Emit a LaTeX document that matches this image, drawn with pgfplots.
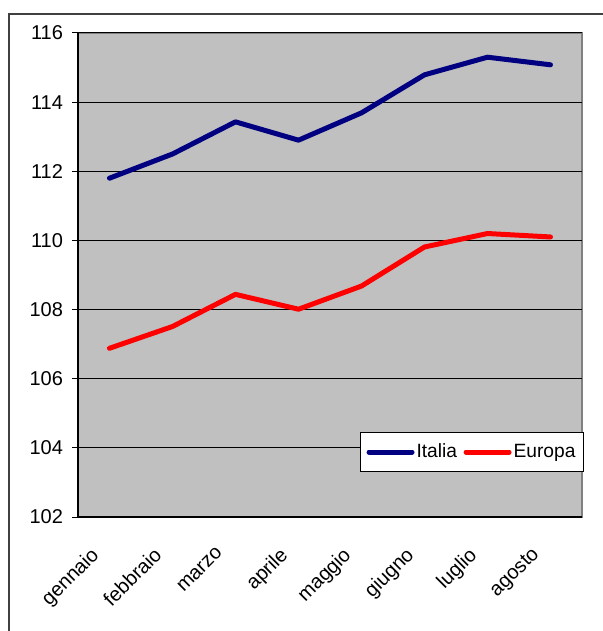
\documentclass[border=0pt]{standalone}
\usepackage{fontspec}
\setmainfont{Liberation Sans}
\usepackage{pgfplots}
\pgfplotsset{compat=1.18}
\definecolor{plotgray}{RGB}{192,192,192}
\definecolor{framegray}{RGB}{128,128,128}
\definecolor{italia}{RGB}{0,0,128}
\definecolor{europa}{RGB}{255,0,0}
\begin{document}
\begin{tikzpicture}
\useasboundingbox (0,0) rectangle (301pt,315.5pt);
\fill[white] (0,0) rectangle (301pt,315.5pt);
% outer chart frame (cropped on the right and bottom)
\draw[line width=0.8pt, black!75] (4.5pt,-20pt) -- (4.5pt,308.5pt) -- (330pt,308.5pt);
\begin{axis}[
  at={(39pt,57pt)}, anchor=south west,
  scale only axis,
  width=252pt, height=242pt,
  xmin=-0.5, xmax=7.5,
  ymin=102, ymax=116,
  ytick={102,104,...,116},
  xtick={0,...,7},
  xticklabels={gennaio,febbraio,marzo,aprile,maggio,giugno,luglio,agosto},
  x tick style={draw=none},
  extra x ticks={-0.5,0.5,...,7.5},
  extra x tick labels={},
  extra x tick style={tick style={draw=black, line width=0.5pt}, major tick length=3pt, tick align=outside, grid=none},
  y tick style={line width=0.5pt, black},
  major tick length=3pt,
  tick align=outside,
  axis x line*=bottom, axis y line*=left,
  axis line style={line width=0.6pt, black, -},
  axis background/.style={fill=plotgray, draw=framegray, line width=0.8pt},
  ymajorgrids,
  major grid style={black, line width=0.5pt},
  tick label style={font=\fontsize{10}{12}\selectfont},
  /pgf/number format/assume math mode=true,
  yticklabel style={xshift=-1pt},
  xticklabel style={xshift=-10pt, yshift=-6.5pt, rotate=45, anchor=north east},
  legend style={at={(1.004,0.093)}, anchor=south east, legend columns=2,
    draw=black, fill=white, line width=0.5pt, font=\fontsize{9.6}{11}\selectfont,
    inner xsep=3pt, inner ysep=4pt,
    nodes={inner xsep=1pt, inner ysep=1.5pt},
    /tikz/every even column/.append style={column sep=2.25pt}},
  legend image code/.code={\draw[#1, line width=2.5pt, line cap=round] (0pt,0pt) -- (21.5pt,0pt);},
]
\addplot[italia, line width=2.5pt, line join=round, line cap=round] coordinates {
  (0,111.8) (1,112.5) (2,113.43) (3,112.9) (4,113.69) (5,114.79) (6,115.3) (7,115.08)};
\addplot[europa, line width=2.5pt, line join=round, line cap=round] coordinates {
  (0,106.88) (1,107.51) (2,108.44) (3,108.01) (4,108.68) (5,109.81) (6,110.2) (7,110.1)};
\legend{Italia,Europa}
\end{axis}
\end{tikzpicture}
\end{document}
